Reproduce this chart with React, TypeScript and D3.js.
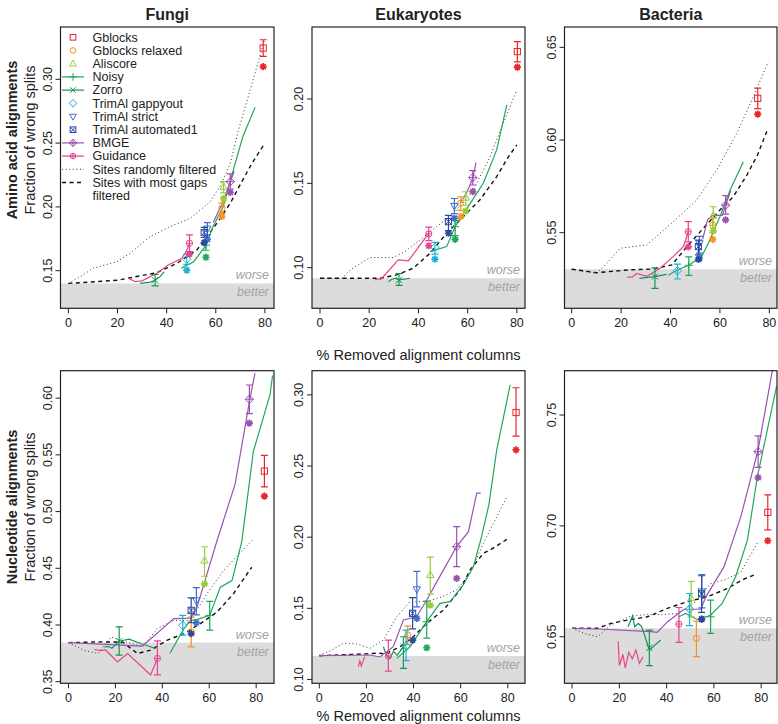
import React from "react";
import * as d3 from "d3";

// ---------- legend / methods ----------
const METHODS = ["Gblocks", "Gblocks relaxed", "Aliscore", "Noisy", "Zorro", "TrimAl gappyout", "TrimAl strict", "TrimAl automated1", "BMGE", "Guidance"];
const COLORS = ["#E8262B", "#F7921E", "#9ACD3C", "#1FA85A", "#129654", "#16B4D6", "#3E6FCC", "#2C4A9E", "#9A52B0", "#E6448E"];
const SYMBOLS = ["square", "circle", "triUp", "plus", "cross", "diamond", "triDown", "squareX", "diamondPlus", "circlePlus"];
const LINE_METHODS = [3, 4, 8, 9];
const LEGEND_EXTRA = ["Sites randomly filtered", "Sites with most gaps", "filtered"];
const TAXA = ["Fungi", "Eukaryotes", "Bacteria"];
const ROW_LABELS = ["Amino acid alignments", "Nucleotide alignments"];
const Y_LABEL = "Fraction of wrong splits";
const X_LABEL = "% Removed alignment columns";
const X_TICKS = [0, 20, 40, 60, 80];

// ---------- axis domains, ticks, baselines (panel order: A B C / D E F) ----------
const X_DOMAINS = [[-3.2, 83.7], [-3.25, 83.3], [-2.9, 83.1], [-3.4, 87.6], [-3.1, 87.3], [-3.2, 86.7]];
const Y_DOMAINS = [[0.1205, 0.341], [0.0759, 0.2427], [0.5092, 0.661], [0.3486, 0.6242], [0.0973, 0.317], [0.629, 0.770]];
const Y_TICKS = [[0.15, 0.2, 0.25, 0.3], [0.1, 0.15, 0.2], [0.55, 0.6, 0.65], [0.35, 0.4, 0.45, 0.5, 0.55, 0.6], [0.1, 0.15, 0.2, 0.25, 0.3], [0.65, 0.7, 0.75]];
const BASELINES = [0.140, 0.0937, 0.5303, 0.3845, 0.1165, 0.6538];

// ---------- points: [method, x, mean, lo, hi, star] ----------
const fungiAAPoints = [
  [0, 79.3, 0.3245, 0.318, 0.331, 0.310],
  [1, 62.5, 0.199, 0.195, 0.203, 0.1925],
  [2, 63.2, 0.2155, 0.211, 0.2198, 0.2065],
  [3, 56.0, 0.170, 0.166, 0.174, 0.1605],
  [4, 35.3, 0.1425, 0.138, 0.147, null],
  [5, 48.2, 0.159, 0.155, 0.163, 0.1505],
  [6, 56.6, 0.183, 0.178, 0.1876, 0.1746],
  [7, 55.3, 0.1798, 0.176, 0.184, 0.172],
  [8, 65.9, 0.2198, 0.214, 0.2258, 0.2114],
  [9, 49.3, 0.1715, 0.165, 0.178, 0.163],
];
const eukAAPoints = [
  [0, 80.2, 0.2281, 0.222, 0.234, 0.2189],
  [1, 57.2, 0.1382, 0.134, 0.142, 0.1303],
  [2, 59.2, 0.1415, 0.137, 0.145, 0.1336],
  [3, 54.9, 0.1243, 0.119, 0.128, 0.1168],
  [4, 32.1, 0.0927, 0.0895, 0.0965, null],
  [5, 46.7, 0.1121, 0.108, 0.115, 0.105],
  [6, 54.6, 0.1366, 0.132, 0.141, 0.1293],
  [7, 52.2, 0.1273, 0.122, 0.131, 0.1204],
  [8, 62.1, 0.1534, 0.149, 0.1575, 0.1451],
  [9, 44.2, 0.120, 0.116, 0.124, 0.113],
];
const bactAAPoints = [
  [0, 75.3, 0.6225, 0.617, 0.628, 0.614],
  [1, 57.1, 0.5541, 0.550, 0.558, 0.5464],
  [2, 57.3, 0.5592, 0.554, 0.564, 0.551],
  [3, 47.4, 0.5324, 0.527, 0.537, null],
  [4, 33.7, 0.5263, 0.520, 0.531, null],
  [5, 42.8, 0.5295, 0.525, 0.533, null],
  [6, 51.7, 0.5443, 0.539, 0.548, 0.5362],
  [7, 51.3, 0.5425, 0.538, 0.546, 0.5356],
  [8, 62.3, 0.5649, 0.560, 0.570, 0.5569],
  [9, 47.2, 0.5505, 0.545, 0.556, 0.5424],
];
const fungiNTPoints = [
  [0, 83.5, 0.5357, 0.5217, 0.5495, 0.5136],
  [1, 52.3, 0.394, 0.3807, 0.407, null],
  [2, 58.0, 0.4568, 0.443, 0.469, 0.4363],
  [3, 60.2, 0.4085, 0.3954, 0.4208, null],
  [4, 21.6, 0.3857, 0.3734, 0.3983, null],
  [5, 48.7, 0.3997, 0.391, 0.4085, null],
  [6, 54.5, 0.4217, 0.409, 0.433, 0.4018],
  [7, 52.3, 0.4129, 0.402, 0.424, 0.3924],
  [8, 77.1, 0.599, 0.5863, 0.6116, 0.578],
  [9, 37.9, 0.3705, 0.356, 0.386, null],
];
const eukNTPoints = [
  [0, 83.5, 0.2876, 0.271, 0.305, 0.2613],
  [1, 37.5, 0.1312, 0.1245, 0.1375, null],
  [2, 47.1, 0.1734, 0.160, 0.186, 0.1523],
  [3, 45.6, 0.1406, 0.129, 0.155, 0.1223],
  [4, 35.7, 0.123, 0.1078, 0.130, null],
  [5, 36.8, 0.1235, 0.1132, 0.1347, null],
  [6, 41.4, 0.1634, 0.151, 0.176, 0.143],
  [7, 39.6, 0.1465, 0.1355, 0.1575, 0.1277],
  [8, 58.3, 0.1933, 0.1793, 0.2074, 0.1711],
  [9, 29.3, 0.1165, 0.1059, 0.1277, null],
];
const bactNTPoints = [
  [0, 82.8, 0.7061, 0.6982, 0.714, 0.6933],
  [1, 52.6, 0.6493, 0.641, 0.657, null],
  [2, 50.4, 0.6673, 0.659, 0.675, null],
  [3, 58.6, 0.659, 0.6515, 0.6665, null],
  [4, 32.7, 0.645, 0.637, 0.653, null],
  [5, 49.7, 0.6625, 0.655, 0.6695, null],
  [6, 54.9, 0.6705, 0.663, 0.678, 0.6578],
  [7, 54.8, 0.6694, 0.661, 0.6775, 0.658],
  [8, 78.7, 0.7335, 0.7264, 0.7406, 0.7218],
  [9, 45.2, 0.6557, 0.6475, 0.6632, null],
];

// ---------- curves ----------
const fungiAAGaps = [[0, 0.140], [20, 0.1425], [36, 0.1484], [44.2, 0.1558], [52.3, 0.1662], [60.4, 0.187], [65.9, 0.2028], [70.6, 0.2198], [75, 0.235], [80, 0.25]];
const fungiAARandom = [[0, 0.140], [4.8, 0.1453], [10.2, 0.152], [19.7, 0.157], [25.1, 0.1636], [33.3, 0.1767], [41.4, 0.1845], [49.6, 0.191], [57.7, 0.204], [62, 0.217], [65.9, 0.234], [69.2, 0.26], [74, 0.2916], [80, 0.332]];
const fungiAANoisy = [[46, 0.152], [51, 0.157], [55.7, 0.169], [59, 0.185], [63, 0.2], [67, 0.228], [71, 0.255], [76, 0.278]];
const fungiAAZorro = [[29.2, 0.14], [33.3, 0.141], [35.3, 0.1425], [37.4, 0.1455], [39, 0.149]];
const fungiAABmge = [[59, 0.188], [62, 0.2], [64.5, 0.212], [66, 0.22], [67.5, 0.228]];
const fungiAAGuidance = [[24.4, 0.144], [27.2, 0.1414], [30, 0.142], [36, 0.148], [40.7, 0.1545], [46.2, 0.1597], [48.2, 0.166], [49.3, 0.1715]];

const eukAAGaps = [[0, 0.0937], [24.4, 0.0937], [31.2, 0.0957], [37.9, 0.0997], [44.7, 0.1085], [51.5, 0.1204], [58.3, 0.1303], [65, 0.1402], [71.8, 0.154], [76.6, 0.1658], [80, 0.1728]];
const eukAARandom = [[0, 0.0937], [8.8, 0.0937], [12.2, 0.0986], [20.3, 0.106], [29.8, 0.106], [33.9, 0.109], [40.7, 0.1164], [47.4, 0.1243], [54.2, 0.132], [62.3, 0.146], [69.1, 0.1658], [74.5, 0.1856], [80, 0.2054]];
const eukAANoisy = [[44.7, 0.1095], [51.5, 0.1125], [54.9, 0.1243], [61, 0.138], [66.4, 0.1502], [71.8, 0.1698], [75.9, 0.1965]];
const eukAAZorro = [[27.8, 0.0917], [29, 0.093], [30.5, 0.0937], [32.1, 0.0927], [36.6, 0.0937]];
const eukAABmge = [[56.9, 0.1382], [59, 0.143], [61, 0.149], [62.1, 0.1534], [63.4, 0.1623]];
const eukAAGuidance = [[22.4, 0.0927], [23.5, 0.0935], [24.5, 0.093], [25.7, 0.0946], [31.8, 0.1046], [35.9, 0.104], [44, 0.12]];

const bactAAGaps = [[0, 0.5303], [10.1, 0.5284], [23.5, 0.53], [33, 0.5304], [40.5, 0.5326], [46.6, 0.5424], [53.3, 0.5524], [60, 0.5622], [65.4, 0.5694], [70.9, 0.5811], [75.2, 0.5919], [79.2, 0.6054]];
const bactAARandom = [[0, 0.5303], [10.1, 0.528], [14.2, 0.5335], [19.6, 0.5416], [30.4, 0.5434], [35.8, 0.5497], [41.1, 0.5559], [50.6, 0.5676], [58.7, 0.5838], [66.8, 0.6036], [73.5, 0.6233], [79.6, 0.6422]];
const bactAANoisy = [[39.1, 0.527], [42.5, 0.5297], [47.4, 0.5324], [52.6, 0.5371], [55.3, 0.5443], [60, 0.5586], [64.1, 0.573], [69.5, 0.5883]];
const bactAAZorro = [[27.4, 0.5254], [30, 0.5258], [33.7, 0.5263], [38.4, 0.5275]];
const bactAABmge = [[53, 0.5464], [55, 0.557], [57, 0.5594], [61, 0.5594], [62.3, 0.5649], [64.4, 0.5728]];
const bactAAGuidance = [[22.5, 0.526], [24.5, 0.526], [26.3, 0.528], [30.4, 0.5265], [35.8, 0.5308], [41.1, 0.5371], [45.2, 0.5425], [47.2, 0.5505]];

const fungiNTGaps = [[0, 0.3845], [13.9, 0.3851], [23, 0.385], [29.4, 0.3749], [35, 0.3778], [42.1, 0.3866], [49.2, 0.3924], [56.2, 0.4012], [63.3, 0.4114], [70.3, 0.4275], [78.1, 0.4509]];
const fungiNTRandom = [[0, 0.3845], [6.8, 0.3775], [12.6, 0.3749], [18.1, 0.3895], [23, 0.386], [31.5, 0.381], [37.9, 0.3968], [44.9, 0.4041], [52, 0.404], [59, 0.4275], [66.1, 0.448], [78.8, 0.4758]];
const fungiNTNoisy = [[43.2, 0.3749], [49.2, 0.3968], [52, 0.4041], [54.8, 0.4048], [60.2, 0.4085], [64.7, 0.4333], [69.7, 0.4392], [73.9, 0.474], [78.8, 0.553], [85.9, 0.603], [87, 0.62]];
const fungiNTZorro = [[15.3, 0.3807], [17, 0.381], [18.5, 0.3795], [21.6, 0.3857], [25.8, 0.3875], [30.8, 0.3837], [37.2, 0.3793]];
const fungiNTBmge = [[0, 0.3845], [31.5, 0.3813], [44.9, 0.4056], [52, 0.406], [54.8, 0.4158], [63.3, 0.4743], [71, 0.524], [77.4, 0.6], [79.5, 0.622]];
const fungiNTGuidance = [[11, 0.3784], [13.8, 0.3775], [15.8, 0.378], [20.9, 0.3675], [25.2, 0.3749], [35, 0.3559], [37.9, 0.3705]];

const eukNTGaps = [[0, 0.1167], [20, 0.118], [25, 0.1185], [28, 0.118], [34.3, 0.123], [39.9, 0.13], [45.6, 0.1395], [52.7, 0.1488], [59.7, 0.1629], [64, 0.177], [69.6, 0.1887], [72.5, 0.191], [80.3, 0.1992]];
const eukNTRandom = [[0, 0.117], [4.5, 0.12], [10.2, 0.1254], [15.9, 0.125], [21.5, 0.1219], [27.2, 0.1277], [32.9, 0.1441], [38.5, 0.1547], [45.6, 0.1547], [52, 0.158], [58.3, 0.1629], [64, 0.1746], [69.6, 0.1957], [79.6, 0.2285]];
const eukNTNoisy = [[32.9, 0.1148], [38.5, 0.123], [45.6, 0.1406], [51.2, 0.1535], [55.5, 0.1547], [61.1, 0.1664], [65.4, 0.1793], [68.5, 0.198], [72, 0.223], [75.3, 0.2613], [81, 0.307]];
const eukNTZorro = [[27.2, 0.123], [28.5, 0.117], [30, 0.1149], [31.5, 0.12], [33, 0.117], [35.7, 0.123]];
const eukNTBmge = [[0, 0.1167], [21.5, 0.1172], [25.7, 0.1158], [31.4, 0.123], [35.7, 0.1418], [41.3, 0.1441], [45.6, 0.1558], [52.7, 0.177], [58.3, 0.1934], [63.3, 0.2039], [66.8, 0.2309], [68.5, 0.2309]];
const eukNTGuidance = [[16.6, 0.109], [17.2, 0.113], [17.8, 0.1095], [18.7, 0.1136], [19.3, 0.116]];

const bactNTGaps = [[0, 0.6538], [10.8, 0.6538], [16.4, 0.656], [23.4, 0.6575], [31.9, 0.659], [40.3, 0.6628], [48.7, 0.6658], [57.1, 0.668], [65.6, 0.6717], [71.9, 0.6756], [78, 0.6783]];
const bactNTRandom = [[0, 0.6538], [5.3, 0.6515], [10.8, 0.65], [16.4, 0.6553], [24.8, 0.6593], [31.9, 0.66], [38.9, 0.66], [44.6, 0.6606], [51.5, 0.665], [58.6, 0.674], [64.3, 0.6756], [71.3, 0.679], [78.7, 0.6929]];
const bactNTNoisy = [[45.2, 0.659], [48, 0.6605], [52.9, 0.6578], [58.6, 0.6597], [63.5, 0.665], [69.2, 0.6771], [74.2, 0.6936], [78.4, 0.7222], [86.5, 0.7628]];
const bactNTZorro = [[23.7, 0.6545], [25.6, 0.6594], [26.5, 0.6545], [28, 0.656], [29.5, 0.6545], [32.7, 0.644], [37.5, 0.6485]];
const bactNTBmge = [[0, 0.6538], [10.8, 0.6535], [33.4, 0.6523], [36, 0.652], [40.4, 0.6568], [47.4, 0.6624], [54.5, 0.6624], [56.6, 0.668], [64.3, 0.6816], [71.4, 0.7042], [78.7, 0.7343], [84.8, 0.7704]];
const bactNTGuidance = [[19.5, 0.648], [20, 0.637], [21.5, 0.642], [22.5, 0.636], [24, 0.643], [25.5, 0.64], [27, 0.644], [28.5, 0.638], [30, 0.641]];

const PANEL_POINTS = [fungiAAPoints, eukAAPoints, bactAAPoints, fungiNTPoints, eukNTPoints, bactNTPoints];
const PANEL_CURVES = [
  { gaps: fungiAAGaps, random: fungiAARandom, noisy: fungiAANoisy, zorro: fungiAAZorro, bmge: fungiAABmge, guidance: fungiAAGuidance },
  { gaps: eukAAGaps, random: eukAARandom, noisy: eukAANoisy, zorro: eukAAZorro, bmge: eukAABmge, guidance: eukAAGuidance },
  { gaps: bactAAGaps, random: bactAARandom, noisy: bactAANoisy, zorro: bactAAZorro, bmge: bactAABmge, guidance: bactAAGuidance },
  { gaps: fungiNTGaps, random: fungiNTRandom, noisy: fungiNTNoisy, zorro: fungiNTZorro, bmge: fungiNTBmge, guidance: fungiNTGuidance },
  { gaps: eukNTGaps, random: eukNTRandom, noisy: eukNTNoisy, zorro: eukNTZorro, bmge: eukNTBmge, guidance: eukNTGuidance },
  { gaps: bactNTGaps, random: bactNTRandom, noisy: bactNTNoisy, zorro: bactNTZorro, bmge: bactNTBmge, guidance: bactNTGuidance },
];

// ---------- layout ----------
const COLS = [[60.5, 274], [312, 525], [564.5, 777]];
const ROWS = [[27, 308.3], [370.7, 683.3]];
const FONT = "'Liberation Sans', Arial, Helvetica, sans-serif";

function Sym({ type, x, y, c, r = 3.1, sw = 1 }) {
  const p = { fill: "none", stroke: c, strokeWidth: sw };
  const d = r * 1.35;
  const plus = <path d={`M${x - d},${y}H${x + d}M${x},${y - d}V${y + d}`} {...p} />;
  const crossIn = <path d={`M${x - r},${y - r}L${x + r},${y + r}M${x - r},${y + r}L${x + r},${y - r}`} {...p} />;
  const diamond = <path d={`M${x},${y - d}L${x + d},${y}L${x},${y + d}L${x - d},${y}Z`} {...p} />;
  switch (type) {
    case "square": return <rect x={x - r} y={y - r} width={2 * r} height={2 * r} {...p} />;
    case "circle": return <circle cx={x} cy={y} r={r} {...p} />;
    case "triUp": return <path d={`M${x},${y - r * 1.3}L${x + r * 1.2},${y + r * 0.8}L${x - r * 1.2},${y + r * 0.8}Z`} {...p} />;
    case "triDown": return <path d={`M${x},${y + r * 1.3}L${x + r * 1.2},${y - r * 0.8}L${x - r * 1.2},${y - r * 0.8}Z`} {...p} />;
    case "plus": return plus;
    case "cross": return crossIn;
    case "diamond": return diamond;
    case "squareX": return <g><rect x={x - r} y={y - r} width={2 * r} height={2 * r} {...p} />{crossIn}</g>;
    case "diamondPlus": return <g>{diamond}<path d={`M${x - d},${y}H${x + d}M${x},${y - d}V${y + d}`} {...p} /></g>;
    case "circlePlus": return <g><circle cx={x} cy={y} r={r} {...p} /><path d={`M${x - r},${y}H${x + r}M${x},${y - r}V${y + r}`} {...p} /></g>;
    default: return null;
  }
}

function Star({ x, y, c, r = 3.6 }) {
  const a = r * 0.7071;
  return <path d={`M${x - r},${y}H${x + r}M${x},${y - r}V${y + r}M${x - a},${y - a}L${x + a},${y + a}M${x - a},${y + a}L${x + a},${y - a}`} stroke={c} strokeWidth={1.7} fill="none" />;
}

function Panel({ idx }) {
  const col = idx % 3, row = Math.floor(idx / 3);
  const [x0, x1] = COLS[col];
  const [y0, y1] = ROWS[row];
  const xs = d3.scaleLinear().domain(X_DOMAINS[idx]).range([x0, x1]);
  const ys = d3.scaleLinear().domain(Y_DOMAINS[idx]).range([y1, y0]);
  const line = d3.line().x((d) => xs(d[0])).y((d) => ys(d[1]));
  const cur = PANEL_CURVES[idx];
  const pts = PANEL_POINTS[idx];
  const base = ys(BASELINES[idx]);
  const clipId = `clip${idx}`;
  return (
    <g>
      <defs>
        <clipPath id={clipId}><rect x={x0} y={y0} width={x1 - x0} height={y1 - y0} /></clipPath>
      </defs>
      <rect x={x0} y={base} width={x1 - x0} height={y1 - base} fill="#DCDCDD" />
      <text x={x1 - 5} y={base - 4} textAnchor="end" fontStyle="italic" fontSize={12.5} fill="#A3A3A3" fontFamily={FONT}>worse</text>
      <text x={x1 - 5} y={base + 13} textAnchor="end" fontStyle="italic" fontSize={12.5} fill="#A3A3A3" fontFamily={FONT}>better</text>
      <g clipPath={`url(#${clipId})`}>
        <path d={line(cur.random)} fill="none" stroke="#333" strokeWidth={1} strokeDasharray="1,2.6" />
        <path d={line(cur.gaps)} fill="none" stroke="#111" strokeWidth={1.4} strokeDasharray="4,3.5" />
        <path d={line(cur.zorro)} fill="none" stroke={COLORS[4]} strokeWidth={1.2} />
        <path d={line(cur.noisy)} fill="none" stroke={COLORS[3]} strokeWidth={1.2} />
        <path d={line(cur.bmge)} fill="none" stroke={COLORS[8]} strokeWidth={1.2} />
        <path d={line(cur.guidance)} fill="none" stroke={COLORS[9]} strokeWidth={1.2} />
        {pts.map((p, i) => {
          const [m, x, mean, lo, hi, star] = p;
          const cx = xs(x);
          const c = COLORS[m];
          return (
            <g key={i}>
              <path d={`M${cx},${ys(lo)}V${ys(hi)}M${cx - 3.5},${ys(lo)}H${cx + 3.5}M${cx - 3.5},${ys(hi)}H${cx + 3.5}`} stroke={c} strokeWidth={1.2} fill="none" />
              <Sym type={SYMBOLS[m]} x={cx} y={ys(mean)} c={c} />
              {star != null && <Star x={cx} y={ys(star)} c={c} />}
            </g>
          );
        })}
      </g>
      <rect x={x0} y={y0} width={x1 - x0} height={y1 - y0} fill="none" stroke="#222" strokeWidth={1.2} />
      {X_TICKS.map((t) => (
        <g key={t}>
          <line x1={xs(t)} x2={xs(t)} y1={y1} y2={y1 + 5} stroke="#222" />
          <text x={xs(t)} y={y1 + 19} textAnchor="middle" fontSize={12.5} fill="#222" fontFamily={FONT}>{t}</text>
        </g>
      ))}
      {Y_TICKS[idx].map((t) => (
        <g key={t}>
          <line x1={x0} x2={x0 - 5} y1={ys(t)} y2={ys(t)} stroke="#222" />
          <text transform={`translate(${x0 - 9},${ys(t)}) rotate(-90)`} textAnchor="middle" fontSize={12.5} fill="#222" fontFamily={FONT}>{t.toFixed(2)}</text>
        </g>
      ))}
    </g>
  );
}

function Legend() {
  const sx = 73, tx = 92.5, y0 = 37.3, dy = 13.2;
  const fs = 12.5;
  const rows = METHODS.map((name, i) => {
    const y = y0 + i * dy;
    const c = COLORS[i];
    return (
      <g key={name}>
        {LINE_METHODS.includes(i) && <line x1={62} x2={84} y1={y} y2={y} stroke={c} strokeWidth={1.2} />}
        <Sym type={SYMBOLS[i]} x={sx} y={y} c={c} r={2.8} />
        <text x={tx} y={y + 4.3} fontSize={fs} fill="#222" fontFamily={FONT}>{name}</text>
      </g>
    );
  });
  const yr = y0 + 10 * dy, yg = y0 + 11 * dy;
  return (
    <g>
      {rows}
      <line x1={62} x2={84} y1={yr} y2={yr} stroke="#333" strokeDasharray="1,2.6" />
      <text x={tx} y={yr + 4.3} fontSize={fs} fill="#222" fontFamily={FONT}>{LEGEND_EXTRA[0]}</text>
      <line x1={62} x2={84} y1={yg} y2={yg} stroke="#111" strokeWidth={1.4} strokeDasharray="4,3.5" />
      <text x={tx} y={yg + 4.3} fontSize={fs} fill="#222" fontFamily={FONT}>{LEGEND_EXTRA[1]}</text>
      <text x={tx} y={yg + dy + 4.3} fontSize={fs} fill="#222" fontFamily={FONT}>{LEGEND_EXTRA[2]}</text>
    </g>
  );
}

export default function App() {
  const rowLabelY = [140, 507];
  const xLabelY = [360, 721];
  return (
    <svg width={778} height={724} style={{ display: "block", position: "absolute", left: 0, top: 0 }} fontFamily={FONT}>
      <rect width={778} height={724} fill="#fff" />
      {TAXA.map((t, i) => (
        <text key={t} x={(COLS[i][0] + COLS[i][1]) / 2} y={20} textAnchor="middle" fontSize={16} fontWeight="bold" fill="#222" fontFamily={FONT}>{t}</text>
      ))}
      {ROW_LABELS.map((l, r) => (
        <g key={l}>
          <text transform={`translate(17,${rowLabelY[r]}) rotate(-90)`} textAnchor="middle" fontSize={14.5} fontWeight="bold" fill="#222" fontFamily={FONT}>{l}</text>
          <text transform={`translate(35,${rowLabelY[r]}) rotate(-90)`} textAnchor="middle" fontSize={14.5} fill="#222" fontFamily={FONT}>{Y_LABEL}</text>
          <text x={418.5} y={xLabelY[r]} textAnchor="middle" fontSize={14.5} fill="#222" fontFamily={FONT}>{X_LABEL}</text>
        </g>
      ))}
      {[0, 1, 2, 3, 4, 5].map((i) => <Panel key={i} idx={i} />)}
      <Legend />
    </svg>
  );
}
